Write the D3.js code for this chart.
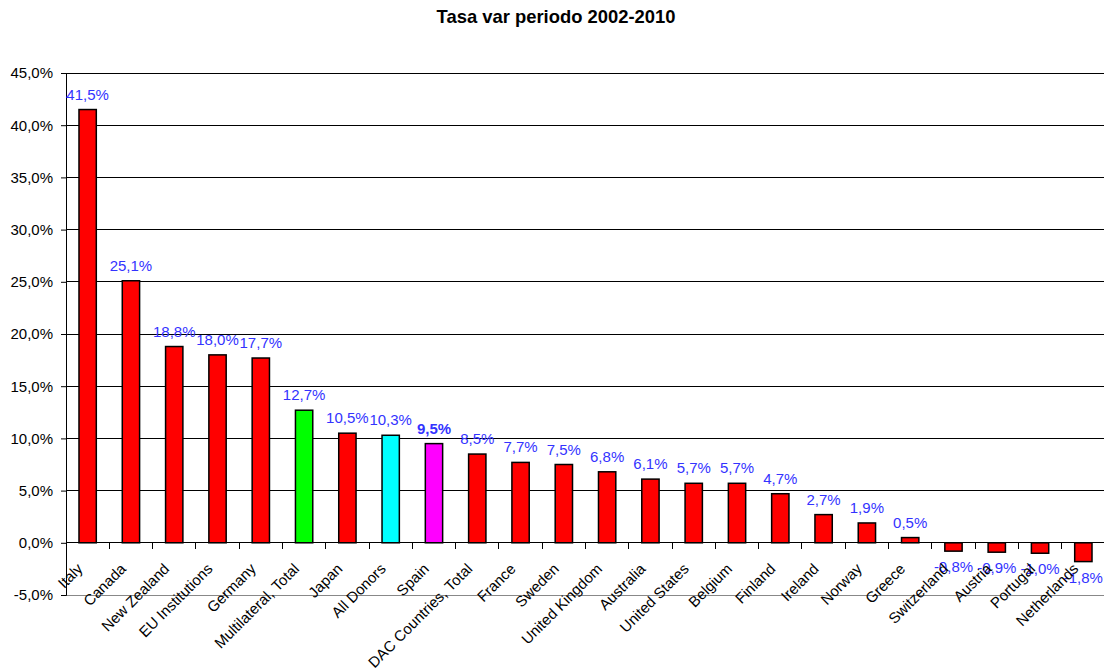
<!DOCTYPE html>
<html><head><meta charset="utf-8">
<script src="https://cdn.jsdelivr.net/npm/d3@7"></script>
<style>body{margin:0;background:#fff;font-family:"Liberation Sans",Arial,sans-serif;}</style>
</head><body><svg id="c" width="1104" height="670"></svg>
<script>
const categories = ["Italy","Canada","New Zealand","EU Institutions","Germany","Multilateral, Total","Japan","All Donors","Spain","DAC Countries, Total","France","Sweden","United Kingdom","Australia","United States","Belgium","Finland","Ireland","Norway","Greece","Switzerland","Austria","Portugal","Netherlands"];
const values = [41.5,25.1,18.8,18.0,17.7,12.7,10.5,10.3,9.5,8.5,7.7,7.5,6.8,6.1,5.7,5.7,4.7,2.7,1.9,0.5,-0.8,-0.9,-1.0,-1.8];
const barColors = {"Multilateral, Total":"#00ff00","All Donors":"#00ffff","Spain":"#ff00ff"};
const yTicks = [-5,0,5,10,15,20,25,30,35,40,45];
const title = "Tasa var periodo 2002-2010";

const svg = d3.select("#c");
const L = 66, R = 1105, T = 73, B = 595;
const x = d3.scaleBand().domain(categories).range([L, R]).paddingInner(0.6).paddingOuter(0.3);
const y = d3.scaleLinear().domain([-5, 45]).range([B, T]);
const fmt = v => v.toFixed(1).replace(".", ",") + "%";

svg.append("text").attr("x", 556).attr("y", 23).attr("text-anchor","middle")
  .attr("font-weight","bold").attr("font-size",18.4).text(title);

// gridlines
svg.append("g").selectAll("line").data(yTicks).join("line")
  .attr("x1", L).attr("x2", R).attr("y1", d=>y(d)).attr("y2", d=>y(d))
  .attr("stroke", d=> d===-5 ? "#888" : "#000").attr("stroke-width",1).attr("shape-rendering","crispEdges");

// y axis
const ya = svg.append("g").attr("transform",`translate(${L},0)`)
  .call(d3.axisLeft(y).tickValues(yTicks).tickSize(5).tickPadding(8).tickFormat(fmt));
ya.select(".domain").attr("stroke","#000");
ya.selectAll("text").attr("font-size",15).attr("font-family","Liberation Sans, Arial, sans-serif").attr("fill","#000");

// bars
svg.append("g").selectAll("rect").data(values).join("rect")
  .attr("x",(d,i)=>x(categories[i]))
  .attr("width", x.bandwidth())
  .attr("y", d=>y(Math.max(0,d)))
  .attr("height", d=>Math.abs(y(d)-y(0)))
  .attr("fill",(d,i)=>barColors[categories[i]]||"#ff0000")
  .attr("stroke","#000").attr("stroke-width",1.5);

// zero axis with category ticks
const step = x.step();
const boundaries = d3.range(categories.length).map(i => L + step*i);
svg.append("line").attr("x1",L).attr("x2",R).attr("y1",y(0)).attr("y2",y(0)).attr("stroke","#000").attr("shape-rendering","crispEdges");
svg.append("g").selectAll("line").data(boundaries).join("line")
  .attr("x1",d=>d).attr("x2",d=>d).attr("y1",y(0)).attr("y2",y(0)+6).attr("stroke","#000").attr("shape-rendering","crispEdges");

// value labels
svg.append("g").selectAll("text").data(values).join("text")
  .attr("x",(d,i)=>x(categories[i])+x.bandwidth()/2)
  .attr("y", d=> d>=0 ? y(d)-10 : y(d)+21)
  .attr("text-anchor","middle").attr("font-size",15).attr("fill","#3333ff")
  .attr("font-weight",(d,i)=>categories[i]==="Spain"?"bold":"normal")
  .text(fmt);

// category labels
svg.append("g").selectAll("text").data(categories).join("text")
  .attr("transform", d=>`translate(${x(d)+x.bandwidth()/2-4},${y(0)+27}) rotate(-45)`)
  .attr("text-anchor","end").attr("font-size",15).attr("fill","#000")
  .text(d=>d);
</script></body></html>
